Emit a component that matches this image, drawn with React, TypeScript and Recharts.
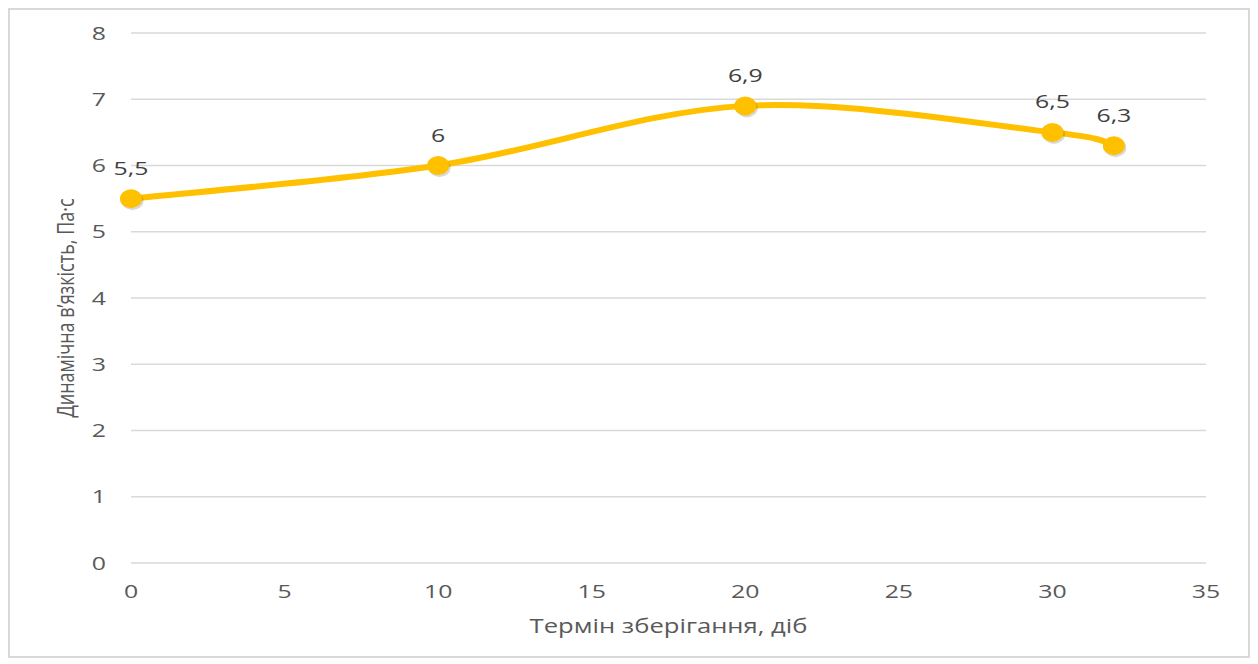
import { LineChart, Line, XAxis, YAxis, CartesianGrid } from "recharts";

const days = [0, 10, 20, 30, 32];
const viscosity = [5.5, 6, 6.9, 6.5, 6.3];
const xTicks = [0, 5, 10, 15, 20, 25, 30, 35];
const yTicks = [0, 1, 2, 3, 4, 5, 6, 7, 8];
const xTitle = "Термін зберігання, діб";
const yTitle = "Динамічна в’язкість, Па·с";

const data = days.map((d, i) => ({ day: d, value: viscosity[i] }));

const FONT = "'Open Sans', 'DejaVu Sans', sans-serif";
const GREY = "#595959";
const STRETCH = 1.38; // the source picture is stretched sideways

const fmt = (v: number) => String(v).replace(".", ",");

// Excel-style smoothed line (Catmull-Rom as cubic beziers)
function excelSmooth(context: any) {
  let pts: number[][] = [];
  return {
    areaStart() {},
    areaEnd() {},
    lineStart() {
      pts = [];
    },
    point(x: number, y: number) {
      pts.push([x, y]);
    },
    lineEnd() {
      const n = pts.length;
      if (!n) return;
      context.moveTo(pts[0][0], pts[0][1]);
      for (let i = 0; i < n - 1; i++) {
        const p0 = pts[Math.max(i - 1, 0)];
        const p1 = pts[i];
        const p2 = pts[i + 1];
        const p3 = pts[Math.min(i + 2, n - 1)];
        context.bezierCurveTo(
          p1[0] + (p2[0] - p0[0]) / 6,
          p1[1] + (p2[1] - p0[1]) / 6,
          p2[0] - (p3[0] - p1[0]) / 6,
          p2[1] - (p3[1] - p1[1]) / 6,
          p2[0],
          p2[1]
        );
      }
    },
  };
}

const XTick = (props: any) => {
  const { x, y, payload } = props;
  return (
    <g transform={`translate(${x},${y + 13})`}>
      <text transform={`scale(${STRETCH},1)`} textAnchor="middle" fill={GREY} fontSize={18} fontFamily={FONT}>
        {payload.value}
      </text>
    </g>
  );
};

const YTick = (props: any) => {
  const { x, y, payload } = props;
  return (
    <g transform={`translate(${x},${y + 6.5})`}>
      <text transform={`scale(${STRETCH},1)`} textAnchor="end" fill={GREY} fontSize={18} fontFamily={FONT}>
        {payload.value}
      </text>
    </g>
  );
};

const XTitle = (props: any) => {
  const vb = props.viewBox || {};
  return (
    <g transform={`translate(${vb.x + vb.width / 2},${vb.y + vb.height})`}>
      <text transform="scale(1.28,1)" textAnchor="middle" fill={GREY} fontSize={20} fontFamily={FONT}>
        {xTitle}
      </text>
    </g>
  );
};

const YTitle = (props: any) => {
  const vb = props.viewBox || {};
  return (
    <g transform={`translate(56,${vb.y + vb.height / 2 + 10}) rotate(-90)`}>
      <text transform="scale(1,1.3)" textAnchor="middle" dy="0.35em" fill={GREY} fontSize={18} fontFamily={FONT}>
        {yTitle}
      </text>
    </g>
  );
};

const Dot = (props: any) => {
  const { cx, cy, payload } = props;
  if (cx == null || cy == null) return null;
  return (
    <g>
      <ellipse cx={cx + 1.5} cy={cy + 2} rx={11} ry={9.5} fill="rgba(0,0,0,0.15)" />
      <ellipse cx={cx} cy={cy} rx={11} ry={9.5} fill="#FFC000" />
      <g transform={`translate(${cx},${cy - 24})`}>
        <text transform={`scale(${STRETCH},1)`} textAnchor="middle" fill="#404040" fontSize={18} fontFamily={FONT}>
          {fmt(payload.value)}
        </text>
      </g>
    </g>
  );
};

export default function App() {
  return (
    <div style={{ width: 1238, height: 646, border: "2px solid #d9d9d9", background: "#fff" }}>
      <LineChart width={1238} height={646} data={data} margin={{ top: 23, right: 42, bottom: 23, left: 0 }}>
        <CartesianGrid vertical={false} stroke="#d9d9d9" strokeWidth={1.3} />
        <XAxis
          dataKey="day"
          type="number"
          domain={[0, 35]}
          ticks={xTicks}
          axisLine={false}
          tickLine={false}
          tickSize={0}
          tickMargin={22}
          height={70}
          tick={<XTick />}
          label={{ content: <XTitle /> }}
        />
        <YAxis
          type="number"
          domain={[0, 8]}
          ticks={yTicks}
          axisLine={false}
          tickLine={false}
          tickSize={0}
          tickMargin={25}
          width={121}
          tick={<YTick />}
          label={{ content: <YTitle /> }}
        />
        <Line
          dataKey="value"
          type={excelSmooth as any}
          stroke="#FFC000"
          strokeWidth={6}
          dot={<Dot />}
          activeDot={false}
          isAnimationActive={false}
        />
      </LineChart>
    </div>
  );
}
